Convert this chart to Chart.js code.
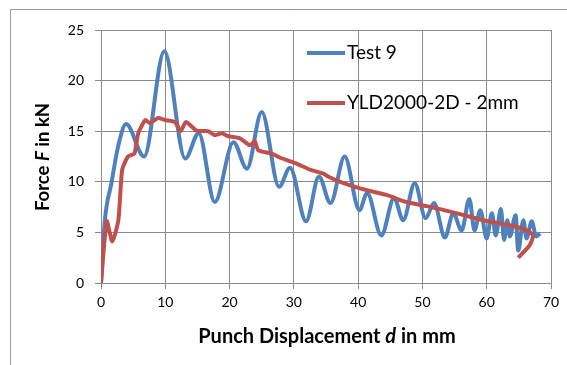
<!DOCTYPE html>
<html><head><meta charset="utf-8">
<script src="https://cdn.jsdelivr.net/npm/chart.js@4/dist/chart.umd.min.js"></script>
<style>html,body{margin:0;padding:0;background:#fff;}</style>
</head><body>
<canvas id="c" width="567" height="365" style="display:block;width:567px;height:365px"></canvas>
<script>
// ---- data ----
const testX = [0, 0.6, 1.6, 2.7, 3.9, 6.7, 9.85, 13.1, 15.2, 17.7, 20.6, 22.7, 25.0, 27.7, 29.4, 31.9, 33.9, 35.7, 37.9, 40.2, 41.4, 43.6, 45.6, 47.0, 48.8, 50.5, 51.8, 53.5, 54.8, 56.1, 57.3, 58.1, 59.0, 60.0, 60.8, 61.4, 62.2, 62.7, 63.2, 63.6, 64.5, 64.9, 65.7, 66.2, 67.0, 67.7, 68.3];
const testY = [0, 6.2, 9.8, 13.6, 15.7, 12.5, 22.9, 12.3, 14.8, 8.0, 13.9, 11.3, 16.9, 9.5, 11.4, 6.1, 10.5, 7.9, 12.5, 7.2, 8.9, 4.7, 8.4, 6.2, 9.85, 6.4, 7.9, 4.5, 6.9, 5.2, 8.3, 5.2, 7.2, 4.4, 6.9, 4.7, 7.3, 4.25, 6.2, 4.6, 6.7, 3.2, 6.2, 4.4, 6.1, 4.6, 4.9];
const simX = [0, 0.9, 1.75, 2.7, 3.3, 4.2, 5.2, 5.8, 6.9, 7.6, 8.9, 10.0, 11.5, 12.4, 13.2, 14.9, 16.7, 17.7, 18.8, 19.8, 21.6, 23.2, 23.9, 24.5, 26.5, 27.8, 30.4, 32.5, 34.6, 35.4, 37.2, 40.3, 44.4, 47.5, 50.7, 54.0, 57.4, 60.5, 63.6, 66.2, 67.2, 66.7, 64.9];
const simY = [0, 6.1, 4.1, 6.2, 11.2, 12.5, 12.8, 14.8, 16.1, 15.8, 16.3, 16.1, 15.9, 15.0, 15.9, 15.05, 15.0, 14.6, 14.8, 14.5, 14.3, 13.6, 14.0, 13.1, 12.8, 12.4, 11.8, 11.2, 10.8, 10.5, 10.0, 9.35, 8.7, 8.0, 7.6, 7.1, 6.55, 6.05, 5.7, 5.2, 4.7, 3.75, 2.5];
const xTicks = [0, 10, 20, 30, 40, 50, 60, 70];
const yTicks = [0, 5, 10, 15, 20, 25];
const seriesNames = ['Test 9', 'YLD2000-2D - 2mm'];
const xTitleParts = [['Punch Displacement ', false], ['d', true], [' in mm', false]];
const yTitleParts = [['Force ', false], ['F', true], [' in kN', false]];

const BLUE = '#4F81BD', RED = '#C0504D', GRID = '#8a8a8a';
const FONT = 'Lato, "Open Sans", sans-serif';

function zip(xs, ys) { return xs.map((x, i) => ({x: x, y: ys[i]})); }

function drawParts(ctx, parts, size) {
  let total = 0;
  const w = parts.map(p => { ctx.font = (p[1] ? 'italic ' : '') + 'bold ' + size + 'px ' + FONT; const m = ctx.measureText(p[0]).width; total += m; return m; });
  let x = -total / 2;
  parts.forEach((p, i) => { ctx.font = (p[1] ? 'italic ' : '') + 'bold ' + size + 'px ' + FONT; ctx.fillText(p[0], x, 0); x += w[i]; });
}

const decor = {
  id: 'decor',
  beforeDraw(chart) {
    const ctx = chart.ctx;
    ctx.save();
    ctx.fillStyle = '#fff';
    ctx.fillRect(0, 0, chart.width, chart.height);
    ctx.strokeStyle = '#9a9a9a';
    ctx.lineWidth = 1;
    ctx.beginPath();
    ctx.moveTo(10.5, 365); ctx.lineTo(10.5, 9.5); ctx.lineTo(567, 9.5);
    ctx.stroke();
    ctx.restore();
  },
  afterDraw(chart) {
    const ctx = chart.ctx;
    ctx.save();
    const colors = [BLUE, RED];
    const rows = [53, 103];
    ctx.textBaseline = 'middle';
    ctx.textAlign = 'left';
    rows.forEach((yy, i) => {
      ctx.strokeStyle = colors[i];
      ctx.lineWidth = 4;
      ctx.lineCap = 'butt';
      ctx.beginPath(); ctx.moveTo(307, yy); ctx.lineTo(345, yy); ctx.stroke();
      ctx.font = '19px ' + FONT;
      ctx.fillStyle = '#000';
      ctx.fillText(seriesNames[i], 347, yy);
    });
    ctx.fillStyle = '#000';
    ctx.save();
    ctx.translate(327, 337);
    drawParts(ctx, xTitleParts, 20);
    ctx.restore();
    ctx.save();
    ctx.translate(43, 157);
    ctx.rotate(-Math.PI / 2);
    drawParts(ctx, yTitleParts, 18.5);
    ctx.restore();
    ctx.restore();
  }
};

new Chart(document.getElementById('c'), {
  type: 'line',
  data: {
    datasets: [
      { label: seriesNames[0], data: zip(testX, testY), borderColor: BLUE, borderWidth: 4, pointRadius: 0, fill: false, cubicInterpolationMode: 'monotone', order: 1 },
      { label: seriesNames[1], data: zip(simX, simY), borderColor: RED, borderWidth: 4, pointRadius: 0, fill: false, tension: 0.2, order: 0 }
    ]
  },
  options: {
    responsive: false,
    animation: false,
    devicePixelRatio: 1,
    layout: { padding: { left: 10, right: 16, top: 30, bottom: 0 } },
    plugins: { legend: { display: false }, tooltip: { enabled: false } },
    scales: {
      x: {
        type: 'linear', min: 0, max: 70,
        afterBuildTicks: s => { s.ticks = xTicks.map(v => ({value: v})); },
        afterFit: s => { s.height = 82; },
        grid: { color: GRID, lineWidth: 1, tickLength: 6, drawTicks: true },
        border: { color: GRID, width: 1 },
        ticks: { color: '#000', font: { family: FONT, size: 14 }, padding: 5, maxRotation: 0 }
      },
      y: {
        type: 'linear', min: 0, max: 25,
        afterBuildTicks: s => { s.ticks = yTicks.map(v => ({value: v})); },
        afterFit: s => { s.width = 91; },
        grid: { color: GRID, lineWidth: 1, tickLength: 6, drawTicks: true },
        border: { color: GRID, width: 1 },
        ticks: { color: '#000', font: { family: FONT, size: 14 }, padding: 11 }
      }
    }
  },
  plugins: [decor]
});
</script>
</body></html>
